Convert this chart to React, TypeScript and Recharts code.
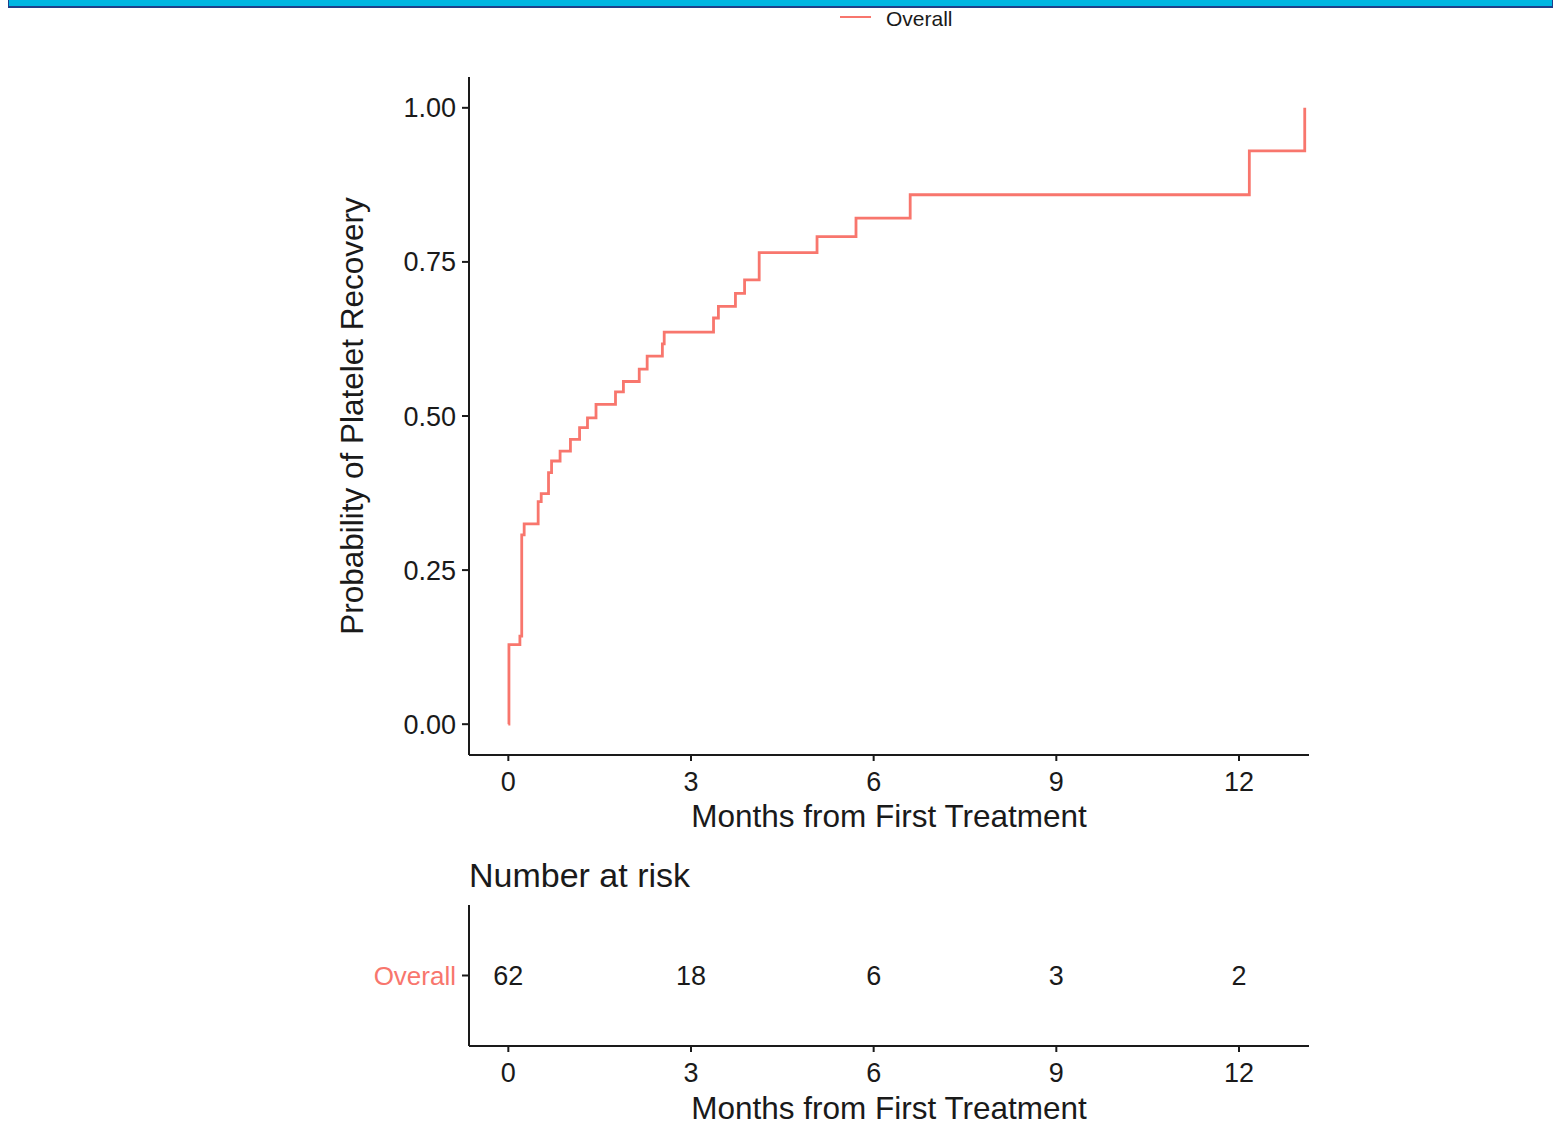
import { LineChart, Line, ScatterChart, Scatter, XAxis, YAxis } from 'recharts';

// Kaplan-Meier style cumulative recovery
const months = [0, 0.01, 0.19, 0.22, 0.26, 0.49, 0.54, 0.66, 0.71, 0.85, 1.02, 1.17, 1.3, 1.44, 1.76, 1.89, 2.15, 2.28, 2.53, 2.56, 3.37, 3.45, 3.73, 3.88, 4.12, 5.07, 5.71, 6.6, 12.17, 13.08];
const recovery = [0, 0.129, 0.143, 0.307, 0.325, 0.361, 0.374, 0.408, 0.427, 0.443, 0.462, 0.481, 0.497, 0.519, 0.539, 0.556, 0.576, 0.597, 0.617, 0.636, 0.659, 0.678, 0.699, 0.721, 0.765, 0.791, 0.821, 0.859, 0.93, 1.0];

const monthTicks = [0, 3, 6, 9, 12];
const probTicks = [0, 0.25, 0.5, 0.75, 1];

// number at risk table
const groups = ['Overall'];
const riskMonths = [0, 3, 6, 9, 12];
const riskCounts = [62, 18, 6, 3, 2];

const RED = '#F8766D';
const INK = '#1a1a1a';
const FONT = '"Liberation Sans", Arial, sans-serif';

const kmData = months.map((t, i) => ({ t, p: recovery[i] }));
const riskData = riskMonths.map((t, i) => ({ t, g: 0, n: riskCounts[i] }));

const axisLine = { stroke: INK, strokeWidth: 2 };
const tickStyle = { fill: INK, fontSize: 27, fontFamily: FONT };

const RiskLabel = (props: any) => (
  <text
    x={props.cx}
    y={props.cy}
    dy="0.355em"
    textAnchor="middle"
    fill={INK}
    fontSize={27}
    fontFamily={FONT}
  >
    {props.payload.n}
  </text>
);

export default function App() {
  return (
    <div
      style={{
        position: 'absolute',
        left: 0,
        top: 0,
        width: 1557,
        height: 1135,
        overflow: 'hidden',
        background: '#fff',
        fontFamily: FONT
      }}
    >
      {/* banner strip at the top */}
      <div
        style={{
          position: 'absolute',
          left: 8,
          top: 0,
          width: 1545,
          height: 8,
          boxSizing: 'border-box',
          background: '#00B6E3',
          borderLeft: '1px solid #1F3F8A',
          borderRight: '1px solid #1F3F8A',
          borderBottom: '2px solid #1F3F8A'
        }}
      />

      {/* legend */}
      <div style={{ position: 'absolute', left: 840, top: 16, width: 31, height: 2, background: RED }} />
      <div
        style={{ position: 'absolute', left: 886, top: 8, fontSize: 21, lineHeight: '21px', color: INK }}
      >
        Overall
      </div>

      <div style={{ position: 'absolute', left: 0, top: 0 }}>
        <LineChart
          width={1557}
          height={900}
          data={kmData}
          margin={{ top: 77, right: 248, left: 235, bottom: 23 }}
        >
          <XAxis
            dataKey="t"
            type="number"
            domain={[-0.646, 13.15]}
            ticks={monthTicks}
            allowDataOverflow
            height={122}
            axisLine={axisLine}
            tickLine={axisLine}
            tickSize={6}
            tickMargin={11}
            tick={tickStyle}
            label={{
              value: 'Months from First Treatment',
              position: 'center',
              fill: INK,
              fontSize: 31.5,
              fontFamily: FONT
            }}
          />
          <YAxis
            type="number"
            domain={[-0.05, 1.05]}
            ticks={probTicks}
            allowDataOverflow
            width={234}
            axisLine={axisLine}
            tickLine={axisLine}
            tickSize={7}
            tickMargin={6}
            tick={tickStyle}
            tickFormatter={(v: number) => v.toFixed(2)}
            label={{
              value: 'Probability of Platelet Recovery',
              angle: -90,
              position: 'center',
              fill: INK,
              fontSize: 31.5,
              fontFamily: FONT
            }}
          />
          <Line
            dataKey="p"
            type="stepAfter"
            stroke={RED}
            strokeWidth={2.8}
            dot={false}
            activeDot={false}
            isAnimationActive={false}
          />
        </LineChart>
      </div>

      {/* number at risk */}
      <div
        style={{ position: 'absolute', left: 469, top: 858, fontSize: 34, lineHeight: '34px', color: INK }}
      >
        Number at risk
      </div>
      <div style={{ position: 'absolute', left: 0, top: 850 }}>
        <ScatterChart
          width={1557}
          height={330}
          margin={{ top: 55, right: 248, left: 349, bottom: 10 }}
        >
          <XAxis
            dataKey="t"
            type="number"
            domain={[-0.646, 13.15]}
            ticks={monthTicks}
            allowDataOverflow
            height={124}
            axisLine={axisLine}
            tickLine={axisLine}
            tickSize={6}
            tickMargin={11}
            tick={tickStyle}
            label={{
              value: 'Months from First Treatment',
              position: 'center',
              fill: INK,
              fontSize: 31.5,
              fontFamily: FONT
            }}
          />
          <YAxis
            dataKey="g"
            type="number"
            domain={[-1, 1]}
            ticks={[0]}
            width={120}
            axisLine={axisLine}
            tickLine={axisLine}
            tickSize={7}
            tickMargin={6}
            tick={{ fill: RED, fontSize: 26, fontFamily: FONT }}
            tickFormatter={(v: number) => groups[v]}
          />
          <Scatter data={riskData} shape={RiskLabel} isAnimationActive={false} />
        </ScatterChart>
      </div>
    </div>
  );
}
